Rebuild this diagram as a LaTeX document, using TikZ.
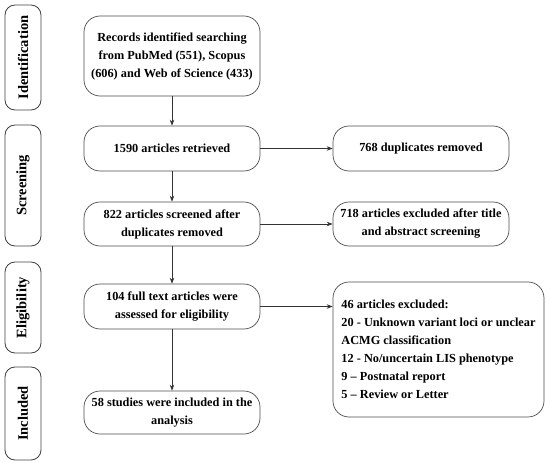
\documentclass[tikz,border=0pt]{standalone}
\usepackage{fontspec}
\setmainfont{Liberation Serif}
\usetikzlibrary{arrows.meta,positioning}

\begin{document}
\begin{tikzpicture}[
  x=1pt,y=-1pt,
  every node/.style={font=\bfseries\fontsize{12.3}{18}\selectfont},
  stage/.style={rectangle,rounded corners=10pt,draw=black!75,line width=0.8pt,
    minimum width=36pt,inner sep=0pt},
  stagetext/.style={rotate=90,font=\bfseries\fontsize{14.5}{18}\selectfont},
  box/.style={rectangle,rounded corners=16pt,draw=black!70,line width=0.7pt,
    minimum width=176pt,align=center,inner sep=0pt},
  flow/.style={draw=black!80,line width=0.7pt,-{Stealth[length=6pt,width=4.5pt]}},
]
\useasboundingbox (0,0) rectangle (550,463);

% stages on the left
\node [stage,minimum height=105pt] (ident) at (23,57.5) {};
\node [stagetext] at (ident) {Identification};
\node [stage,minimum height=121pt] (screen) at (23,185.5) {};
\node [stagetext] at (screen) {Screening};
\node [stage,minimum height=91pt] (elig) at (23,307.5) {};
\node [stagetext] at (elig) {Eligibility};
\node [stage,minimum height=93pt] (incl) at (23,413.5) {};
\node [stagetext] at (incl) {Included};

% main column
\node [box,minimum height=80pt] (records) at (172,56)
  {Records identified searching\\from PubMed (551), Scopus\\(606) and Web of Science (433)};
\node [box,minimum height=45pt] (retrieved) at (172,148.5) {1590 articles retrieved};
\node [box,minimum height=44pt] (screened) at (172,224)
  {822 articles screened after\\duplicates removed};
\node [box,minimum height=45pt] (fulltext) at (172,306.5)
  {104 full text articles were\\assessed for eligibility};
\node [box,minimum height=43pt] (studies) at (172,412.5)
  {58 studies were included in the\\analysis};

% right column
\node [box,minimum height=45pt] (dups) at (421,148.5) {768 duplicates removed};
\node [box,minimum height=44pt] (excl) at (421,224)
  {718 articles excluded after title\\and abstract screening};
\node [box,minimum width=211pt,minimum height=135pt,align=left] (reasons) at (438.5,349.5)
  {46 articles excluded:\\
   20 - Unknown variant loci or unclear\\
   ACMG classification\\
   12 - No/uncertain LIS phenotype\\
   9 -- Postnatal report\\
   5 -- Review or Letter};

% connectors
\draw [flow] (records) -- (retrieved);
\draw [flow] (retrieved) -- (screened);
\draw [flow] (screened) -- (fulltext);
\draw [flow] (fulltext) -- (studies);
\draw [flow] (retrieved) -- (dups);
\draw [flow] (screened) -- (excl);
\draw [flow] (fulltext.east) -- (fulltext.east -| reasons.west);
\end{tikzpicture}
\end{document}
